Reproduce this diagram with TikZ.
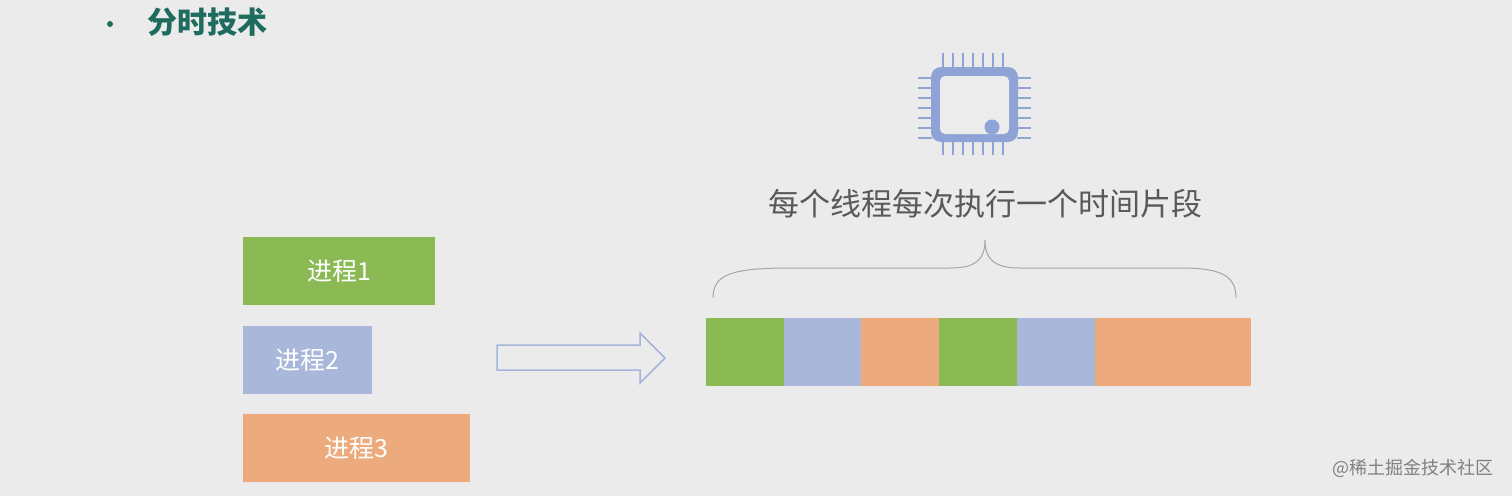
\documentclass[tikz,border=0pt]{standalone}
\usepackage{fontspec}
\setmainfont{Noto Sans CJK SC}
\begin{document}
\begin{tikzpicture}[x=1pt,y=-1pt]
\definecolor{bg}{HTML}{EBEBEB}
\definecolor{gr}{HTML}{8BBA55}
\definecolor{bl}{HTML}{A9B8DA}
\definecolor{og}{HTML}{EDAA7D}
\definecolor{cpu}{HTML}{8FA3D6}
\definecolor{tl}{HTML}{1F6B5E}
\tikzset{blk/.style={anchor=north west,inner sep=0,minimum height=68pt,text=white,font=\fontsize{25}{25}\selectfont},
seg/.style={anchor=north west,inner sep=0,minimum height=68pt}}
\fill[bg] (0,0) rectangle (1512,496);
\useasboundingbox (0,0) rectangle (1512,496);
\fill[tl] (110,24) circle (3) coordinate (bul);
\node[anchor=west,text=tl,font=\fontsize{30}{30}\selectfont\bfseries] (title) at (144,22) {分时技术};
\node[blk,fill=gr,minimum width=192pt] (p1) at (243,237) {进程1};
\node[blk,fill=bl,minimum width=129pt] (p2) at (243,326) {进程2};
\node[blk,fill=og,minimum width=227pt] (p3) at (243,414) {进程3};
\draw[cpu!80,line width=1.5pt,fill=bg,line join=miter] (497,345) -- (640,345) -- (640,333) -- (665,358) -- (640,383) -- (640,370) -- (497,370) -- cycle;
\node[seg,fill=gr,minimum width=78pt] (s1) at (706,318) {};
\node[seg,fill=bl,minimum width=78pt] (s2) at (783.5,318) {};
\node[seg,fill=og,minimum width=78pt] (s3) at (861,318) {};
\node[seg,fill=gr,minimum width=78pt] (s4) at (939,318) {};
\node[seg,fill=bl,minimum width=78pt] (s5) at (1017,318) {};
\node[seg,fill=og,minimum width=156pt] (s6) at (1095,318) {};
\draw[gray!70,line width=1pt] (713,298) .. controls (713,275) and (730,268) .. (790,268) -- (950,268) .. controls (975,268) and (985,260) .. (985,240) .. controls (985,260) and (995,268) .. (1020,268) -- (1180,268) .. controls (1220,268) and (1236,275) .. (1236,298);
\node[text=black!65,font=\fontsize{31}{31}\selectfont] (lbl) at (985,204) {每个线程每次执行一个时间片段};
% CPU
\foreach \i in {0,...,6}{
 \draw[cpu,line width=1.3pt] (943+10*\i,53) -- (943+10*\i,68);
 \draw[cpu,line width=1.3pt] (943+10*\i,140) -- (943+10*\i,155);
 \draw[cpu,line width=1.3pt] (918,78+10*\i) -- (932,78+10*\i);
 \draw[cpu,line width=1.3pt] (1017,78+10*\i) -- (1031,78+10*\i);}
\fill[cpu,rounded corners=10pt] (931,67) rectangle (1018,142);
\fill[bg!95!white,rounded corners=5pt] (940,76) rectangle (1009,134);
\fill[cpu] (992,127) circle (7.5);
\node[anchor=east,text=gray,font=\fontsize{18}{18}\selectfont] (wm) at (1497,468) {@稀土掘金技术社区};
\end{tikzpicture}
\end{document}
